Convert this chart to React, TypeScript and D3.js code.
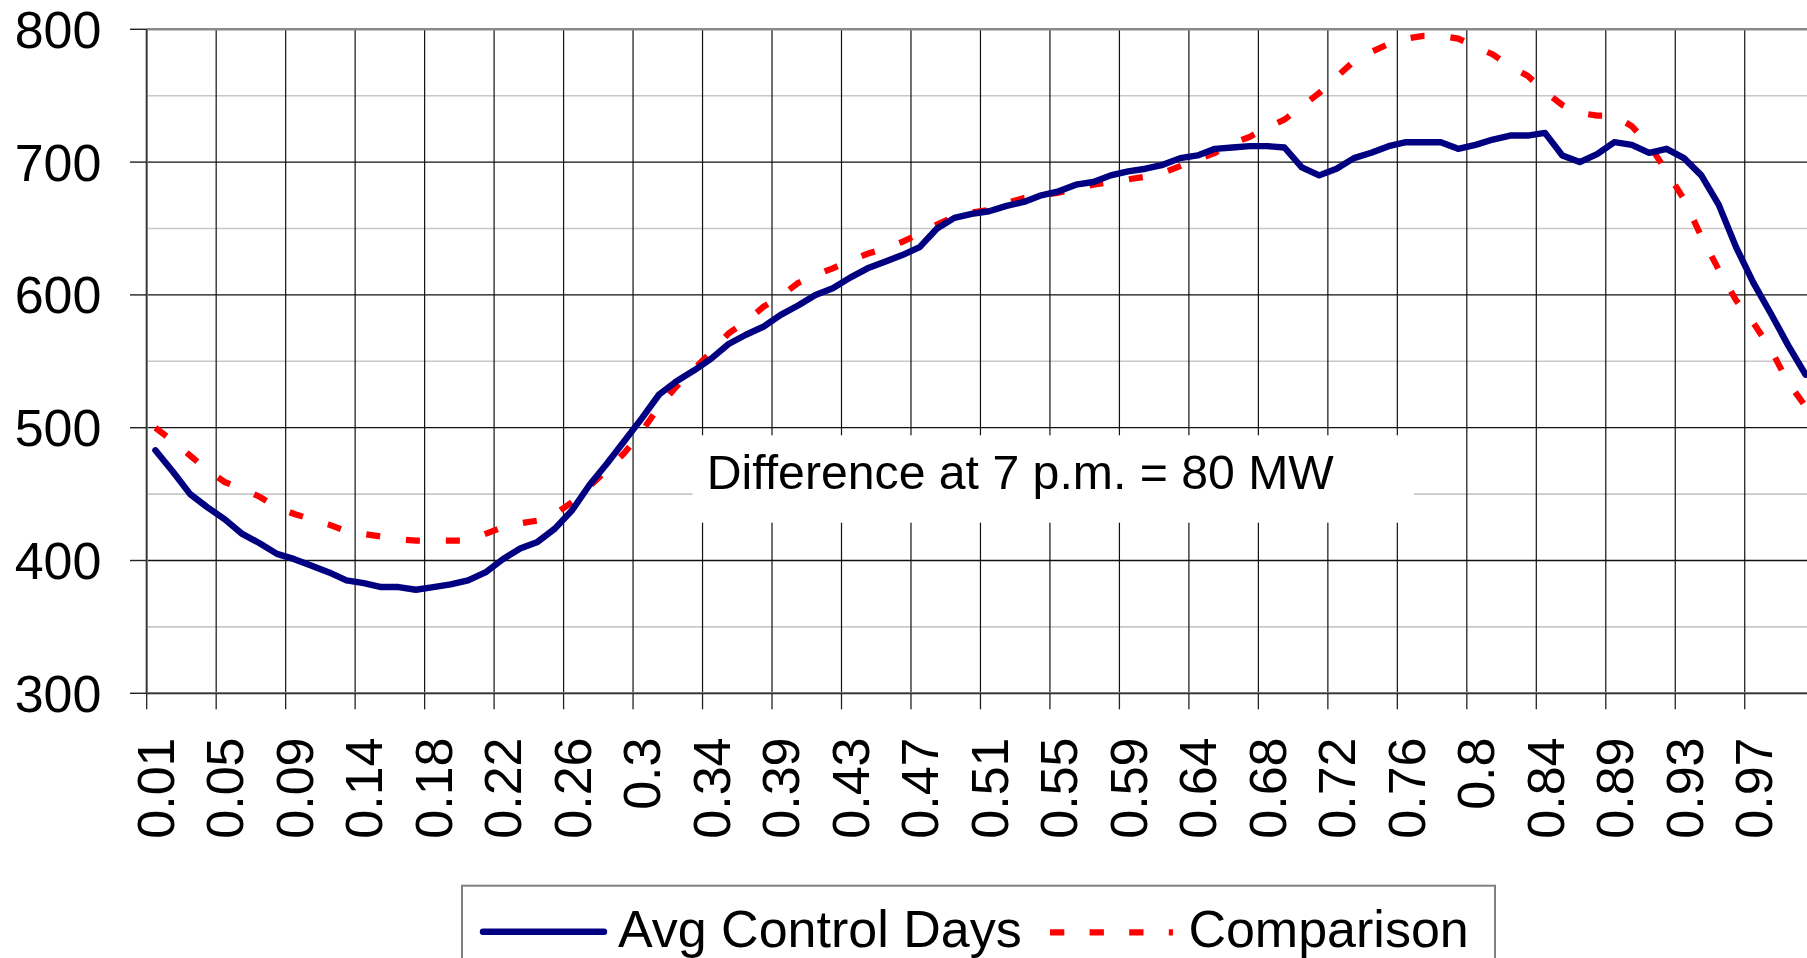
import React from "react";
import * as d3 from "d3";

const categories = [
  "0.01","0.02","0.03","0.04","0.05","0.06","0.07","0.08","0.09","0.1",
  "0.11","0.13","0.14","0.15","0.16","0.17","0.18","0.19","0.2","0.21",
  "0.22","0.23","0.24","0.25","0.26","0.27","0.28","0.29","0.3","0.31",
  "0.32","0.33","0.34","0.35","0.36","0.38","0.39","0.4","0.41","0.42",
  "0.43","0.44","0.45","0.46","0.47","0.48","0.49","0.5","0.51","0.52",
  "0.53","0.54","0.55","0.56","0.57","0.58","0.59","0.6","0.61","0.63",
  "0.64","0.65","0.66","0.67","0.68","0.69","0.7","0.71","0.72","0.73",
  "0.74","0.75","0.76","0.77","0.78","0.79","0.8","0.81","0.82","0.83",
  "0.84","0.85","0.86","0.88","0.89","0.9","0.91","0.92","0.93","0.94",
  "0.95","0.96","0.97","0.98","0.99","1",
];

const avgControlDays = [
  483, 467, 450, 440, 431, 420, 413, 405, 401, 396,
  391, 385, 383, 380, 380, 378, 380, 382, 385, 391,
  401, 409, 414, 424, 438, 457, 473, 490, 507, 525,
  535, 543, 552, 563, 570, 576, 585, 592, 600, 605,
  613, 620, 625, 630, 636, 650, 658, 661, 663, 667,
  670, 675, 678, 683, 685, 690, 693, 695, 698, 703,
  705, 710, 711, 712, 712, 711, 696, 690, 695, 703,
  707, 712, 715, 715, 715, 710, 713, 717, 720, 720,
  722, 705, 700, 706, 715, 713, 707, 710, 703, 690,
  668, 636, 609, 586, 562, 540,
];

const comparison = [
  500, 490, 479, 468, 459, 454, 448, 440, 435, 431,
  427, 422, 420, 418, 416, 415, 415, 415, 415, 420,
  425, 428, 430, 435, 444, 456, 468, 481, 497, 516,
  531, 544, 557, 571, 580, 591, 599, 609, 615, 620,
  626, 631, 635, 640, 646, 653, 659, 662, 664, 669,
  673, 675, 677, 680, 683, 685, 687, 689, 692, 697,
  702, 707, 714, 719, 726, 732, 742, 752, 764, 776,
  783, 789, 793, 795, 795, 793, 787, 781, 772, 765,
  753, 743, 737, 735, 735, 727, 713, 693, 672, 644,
  619, 596, 579, 559, 534, 516,
];

const yMajorTicks = [300, 400, 500, 600, 700, 800];
const yMinorTicks = [350, 450, 550, 650, 750];
const seriesNames = ["Avg Control Days", "Comparison"];
const annotationText = "Difference at 7 p.m. = 80 MW";

const W = 1807;
const H = 958;
const FONT = "'Liberation Sans', Arial, Helvetica, sans-serif";

export default function App() {
  const left = 146.7;
  const bandW = 17.37;
  const right = left + bandW * categories.length;
  const top = 29.3;
  const bottom = 693.3;
  const labelStep = 4;

  const x = d3.scaleBand<string>().domain(categories).range([left, right]).padding(0);
  const y = d3.scaleLinear().domain([300, 800]).range([bottom, top]);
  const cx = (i: number) => (x(categories[i]) as number) + x.bandwidth() / 2;

  const line = d3
    .line<number>()
    .x((_, i) => cx(i))
    .y((d) => y(d));

  const boundaryIdx = d3.range(0, categories.length + 1, labelStep);
  const boundaryX = (k: number) =>
    k < categories.length ? (x(categories[k]) as number) : right;
  const labelIdx = d3.range(0, categories.length, labelStep);

  return (
    <div style={{ position: "absolute", left: 0, top: 0 }}>
      <svg width={W} height={H} style={{ display: "block", background: "#fff" }} fontFamily={FONT}>
        <rect x={0} y={0} width={W} height={H} fill="#fff" />
        {/* minor gridlines */}
        {yMinorTicks.map((t) => (
          <line key={"mn" + t} x1={left} x2={right} y1={y(t)} y2={y(t)} stroke="#c8c8c8" strokeWidth={1.6} />
        ))}
        {/* major gridlines */}
        {yMajorTicks.map((t) => (
          <line key={"mj" + t} x1={left} x2={right} y1={y(t)} y2={y(t)} stroke="#111" strokeWidth={1.3} />
        ))}
        {/* vertical gridlines */}
        {boundaryIdx.slice(1).map((k) => (
          <line key={"vg" + k} x1={boundaryX(k)} x2={boundaryX(k)} y1={top} y2={bottom} stroke="#111" strokeWidth={1.2} />
        ))}
        {/* plot border */}
        <line x1={left} x2={right} y1={top} y2={top} stroke="#8a8a8a" strokeWidth={2.5} />
        <line x1={left} x2={left} y1={top} y2={bottom} stroke="#8a8a8a" strokeWidth={2.5} />
        <line x1={left} x2={right} y1={bottom} y2={bottom} stroke="#8a8a8a" strokeWidth={2.5} />
        <line x1={left} x2={left} y1={top} y2={bottom} stroke="#222" strokeWidth={1} />
        <line x1={left} x2={right} y1={bottom} y2={bottom} stroke="#222" strokeWidth={1} />
        {/* y ticks & labels */}
        {yMajorTicks.map((t) => (
          <g key={"yt" + t}>
            <line x1={130} x2={left} y1={y(t)} y2={y(t)} stroke="#222" strokeWidth={1.4} />
            <text x={101.4} y={y(t) + 18.4} textAnchor="end" fontSize={52} fill="#000">
              {t}
            </text>
          </g>
        ))}
        {/* x ticks */}
        {boundaryIdx.map((k) => (
          <line key={"xt" + k} x1={boundaryX(k)} x2={boundaryX(k)} y1={bottom} y2={bottom + 16} stroke="#222" strokeWidth={1.3} />
        ))}
        {/* x labels */}
        {labelIdx.map((i) => (
          <text
            key={"xl" + i}
            transform={`translate(${cx(i) + 18.6},${bottom + 44.2}) rotate(-90)`}
            textAnchor="end"
            fontSize={52}
            fill="#000"
          >
            {categories[i]}
          </text>
        ))}
        {/* annotation */}
        <rect x={692.7} y={435.3} width={721.3} height={87.4} fill="#fff" />
        <text x={706.7} y={489.3} fontSize={48.2} fill="#000">
          {annotationText}
        </text>
        {/* series */}
        <path
          d={line(comparison) || ""}
          fill="none"
          stroke="#ff0000"
          strokeWidth={6.2}
          strokeDasharray="14 26"
          strokeLinecap="butt"
          strokeLinejoin="miter"
        />
        <path
          d={line(avgControlDays) || ""}
          fill="none"
          stroke="#000080"
          strokeWidth={6.4}
          strokeLinejoin="round"
          strokeLinecap="round"
        />
        {/* legend */}
        <rect x={462} y={885.7} width={1033} height={100} fill="#fff" stroke="#808080" strokeWidth={2} />
        <line x1={483} x2={604} y1={931.7} y2={931.7} stroke="#000080" strokeWidth={6.4} strokeLinecap="round" />
        <text x={618} y={946.7} fontSize={52} fill="#000">
          {seriesNames[0]}
        </text>
        <line x1={1050} x2={1173} y1={932.3} y2={932.3} stroke="#ff0000" strokeWidth={6.2} strokeDasharray="14.3 25.3" />
        <text x={1188.4} y={946.7} fontSize={52} fill="#000">
          {seriesNames[1]}
        </text>
      </svg>
    </div>
  );
}
